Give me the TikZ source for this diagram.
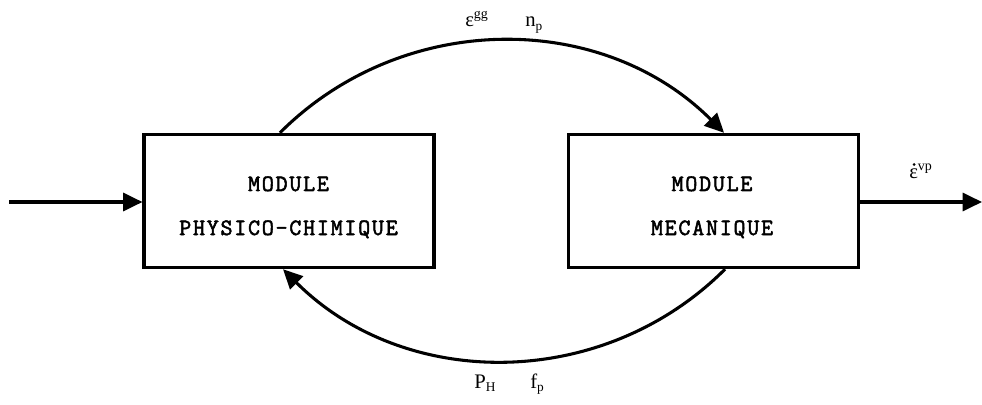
\documentclass[tikz,border=0pt]{standalone}
\usepackage{fontspec}
\setmainfont{Liberation Serif}
\newfontfamily\cmono[FakeBold=2.2,LetterSpace=7.5]{Latin Modern Mono}
\usetikzlibrary{arrows.meta}
\newcommand\sbx[1]{\raisebox{-0.35ex}{\fontsize{10}{10}\selectfont #1}}
\newcommand\spx[1]{\raisebox{0.85ex}{\fontsize{10.5}{10.5}\selectfont #1}}
\begin{document}
\begin{tikzpicture}[x=0.75pt,y=0.75pt,
  modbox/.style={draw, line width=2.3pt, minimum width=217.5pt, minimum height=100pt, inner sep=0pt},
  modtxt/.style={font=\cmono\fontsize{17.5}{20}\selectfont, anchor=base, inner sep=0pt},
  lbl/.style={font=\fontsize{15.5}{18}\selectfont, anchor=base west, inner sep=0pt},
  flow/.style={line width=2.3pt, -{Triangle[length=14.5pt,width=13.5pt]}}]
\useasboundingbox (0,0) rectangle (982,404);
% boxes
\node[modbox] (b1) at (289,203) {};
\node[modbox] (b2) at (713.8,203) {};
\node[modtxt] (t1a) at (288.5,213) {MODULE};
\node[modtxt] (t1b) at (288.5,169) {PHYSICO-CHIMIQUE};
\node[modtxt] (t2a) at (712,213) {MODULE};
\node[modtxt] (t2b) at (712,169) {MECANIQUE};
% external connectors
\coordinate (in) at (9,202);
\coordinate (out) at (982,202);
\draw[flow] (in) -- (b1.west |- in);
\draw[flow] (b2.east |- out) -- (out);
% loop arcs
\draw[flow] ([xshift=-6.8pt]b1.north) to[out=45,in=135,looseness=1.0] ([xshift=7.7pt]b2.north);
\draw[flow] ([xshift=8.4pt]b2.south) to[out=-135,in=-45,looseness=1.0] ([xshift=-4.5pt]b1.south);
% labels
\node[lbl] (l1) at (465,377) {ε\spx{gg}};
\node[lbl] (l2) at (525,377) {n\sbx{p}};
\node[lbl] (l3) at (474,16) {P\sbx{H}};
\node[lbl] (l4) at (530,16) {f\sbx{p}};
\node[lbl] (l5) at (909,225) {ε\spx{vp}};
\fill ([shift={(5,14.5)}]l5.base west) circle[radius=1.5];
\end{tikzpicture}
\end{document}
